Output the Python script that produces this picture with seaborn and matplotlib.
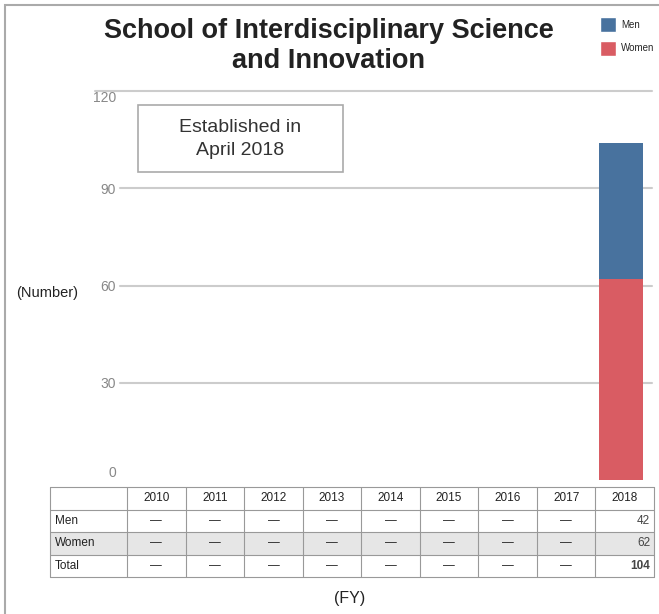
import numpy as np
import pandas as pd
import matplotlib
matplotlib.use('Agg')
import matplotlib.pyplot as plt
from matplotlib.patches import Rectangle, Patch
import seaborn as sns

# donnees
years = ['2010', '2011', '2012', '2013', '2014', '2015', '2016', '2017', '2018']
men = [np.nan] * 8 + [42]
women = [np.nan] * 8 + [62]
yticks = [0, 30, 60, 90, 120]

men_color = '#48729e'
women_color = '#d95c63'

sns.set_theme(style='white')
plt.rcParams['font.family'] = ['Liberation Sans', 'DejaVu Sans']

W, H = 659, 614
fig = plt.figure(figsize=(W / 100, H / 100), dpi=100)

df = pd.DataFrame({'year': years, 'Men': men, 'Women': women})
df['Total'] = df['Men'] + df['Women']

# graphique principal
ax = fig.add_axes([127 / W, 1 - 480 / H, 528 / W, 389 / H])
sns.barplot(data=df, x='year', y='Total', order=years, color=men_color,
            saturation=1, width=0.74, linewidth=0, ax=ax)
sns.barplot(data=df, x='year', y='Women', order=years, color=women_color,
            saturation=1, width=0.74, linewidth=0, ax=ax)
ax.set_xlim(-0.42, 8.58)
ax.set_ylim(0, 120)
ax.set_yticks(yticks)
ax.set_yticklabels([str(t) for t in yticks])
ax.tick_params(axis='y', length=0, pad=8, labelsize=10, labelcolor='#888888')
ax.tick_params(axis='x', length=0, labelbottom=False)
ax.set_xlabel('')
ax.set_ylabel('')
for s in ax.spines.values():
    s.set_visible(False)
labs = ax.get_yticklabels()
labs[-1].set_va('top')
labs[0].set_va('bottom')

for t in yticks[1:-1]:
    ax.axhline(t, xmin=-0.014, xmax=0.995, color='#cccccc', lw=1.5, clip_on=False, zorder=0)
ax.axhline(120, xmin=-0.06, xmax=0.995, color='#cccccc', lw=1.5, clip_on=False, zorder=0)

# titre
fig.text(329 / W, 1 - 46 / H, 'School of Interdisciplinary Science\nand Innovation',
         ha='center', va='center', fontsize=19.5, fontweight='bold', color='#222222',
         linespacing=1.25)

# legende
handles = [Patch(facecolor=men_color, label='Men'), Patch(facecolor=women_color, label='Women')]
fig.legend(handles=handles, loc='upper left', bbox_to_anchor=(600 / W, 1 - 17 / H),
           frameon=False, fontsize=7, handlelength=1.65, handleheight=2.0,
           handletextpad=0.5, labelspacing=0.9, borderpad=0, borderaxespad=0)

# encadre
fig.add_artist(Rectangle((138 / W, 1 - 172 / H), 205 / W, 67 / H, transform=fig.transFigure,
                         facecolor='white', edgecolor='#aaaaaa', lw=1.2))
fig.text(240 / W, 1 - 139 / H, 'Established in\nApril 2018', ha='center', va='center',
         fontsize=14, color='#333333', linespacing=1.45)

fig.text(47 / W, 1 - 293 / H, '(Number)', ha='center', va='center', fontsize=10.5, color='#222222')
fig.text(350 / W, 1 - 598 / H, '(FY)', ha='center', va='center', fontsize=11.5, color='#222222')

# cadre exterieur
fig.add_artist(Rectangle((5 / W, -0.1), 1.2, 1 - 5 / H + 0.1, transform=fig.transFigure,
                         facecolor='none', edgecolor='#aaaaaa', lw=1.5))

# tableau
tab = fig.add_axes([50 / W, 1 - 577 / H, 604 / W, 90 / H])
tab.set_xlim(0, 604)
tab.set_ylim(90, 0)
tab.axis('off')
lab_w = 77
col_w = (604 - lab_w) / 9
row_h = 22.5
rows = ['Men', 'Women', 'Total']
vals = [men, women, list(df['Total'])]
tab.add_patch(Rectangle((0, 2 * row_h), 604, row_h, facecolor='#e6e6e6', edgecolor='none'))
for i in range(5):
    tab.plot([0, 604], [i * row_h, i * row_h], color='#999999', lw=0.8, clip_on=False)
tab.plot([0, 0], [0, 90], color='#999999', lw=0.8, clip_on=False)
for j in range(10):
    x = lab_w + j * col_w
    tab.plot([x, x], [0, 90], color='#999999', lw=0.8, clip_on=False)
for j, yr in enumerate(years):
    tab.text(lab_w + (j + 0.5) * col_w, 0.5 * row_h, yr, ha='center', va='center',
             fontsize=8.5, color='#222222')
for i, (r, v) in enumerate(zip(rows, vals)):
    yc = (i + 1.5) * row_h
    tab.text(5, yc, r, ha='left', va='center', fontsize=8.5, color='#222222')
    for j, val in enumerate(v):
        if np.isnan(val):
            tab.text(lab_w + (j + 0.5) * col_w, yc, '—', ha='center', va='center',
                     fontsize=8.5, color='#222222')
        else:
            tab.text(lab_w + (j + 1) * col_w - 4, yc, str(int(val)), ha='right', va='center',
                     fontsize=8.5, color='#444444',
                     fontweight='bold' if r == 'Total' else 'normal')

fig.savefig('out.png', dpi=100)
